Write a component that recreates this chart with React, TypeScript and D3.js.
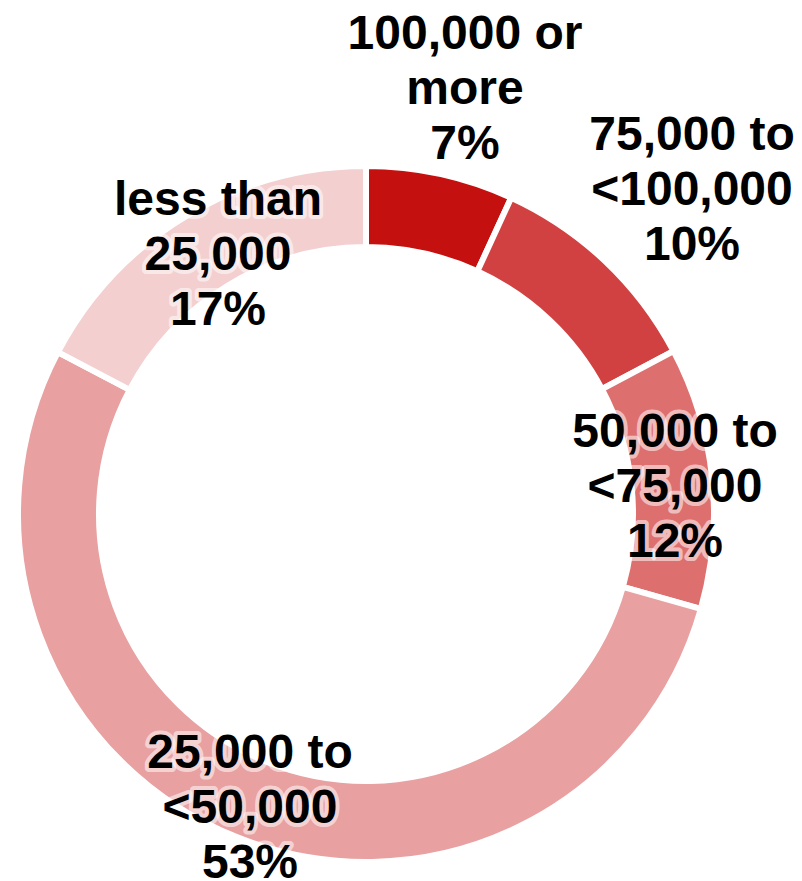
import React from "react";
import * as d3 from "d3";

const categories: string[][] = [
  ["100,000 or", "more"],
  ["75,000 to", "<100,000"],
  ["50,000 to", "<75,000"],
  ["25,000 to", "<50,000"],
  ["less than", "25,000"],
];
const values: number[] = [6.85, 10.4, 12.15, 53.3, 17.3];
const colors: string[] = ["#C51010", "#D24141", "#DE6F6F", "#E8A0A1", "#F3CFD0"];

// label layout (center x, first baseline y)
const labelPos: [number, number][] = [
  [465, 49],
  [692, 150],
  [675, 447],
  [250, 768],
  [218, 215],
];

const W = 802;
const H = 881;
const CX = 366;
const CY = 514;
const R_OUT = 348;
const R_IN = 267;
const FONT = 48;
const LINE = 55;

export default function App() {
  const pie = d3
    .pie<number>()
    .sort(null)
    .value((d) => d)(values);
  const arc = d3.arc<d3.PieArcDatum<number>>().innerRadius(R_IN).outerRadius(R_OUT);
  const total = d3.sum(values);

  return (
    <svg
      width={W}
      height={H}
      style={{ position: "absolute", left: 0, top: 0 }}
      xmlns="http://www.w3.org/2000/svg"
    >
      <rect width={W} height={H} fill="#fff" />
      <g transform={`translate(${CX},${CY})`}>
        {pie.map((p, i) => (
          <path
            key={i}
            d={arc(p) || ""}
            fill={colors[i]}
            stroke="#fff"
            strokeWidth={6}
            strokeLinejoin="miter"
          />
        ))}
      </g>
      <g
        fontFamily="'Liberation Sans', Arial, sans-serif"
        fontWeight="bold"
        fontSize={FONT}
        textAnchor="middle"
      >
        {categories.map((lines, i) => {
          const [x, y] = labelPos[i];
          const all = [...lines, `${Math.round((values[i] / total) * 100)}%`];
          return (
            <text key={i} x={x} y={y}>
              {all.map((ln, j) => (
                <tspan
                  key={j}
                  x={x}
                  y={y + j * LINE}
                  fill="#000"
                  stroke="rgba(255,255,255,0.55)"
                  strokeWidth={8}
                  strokeLinejoin="round"
                  style={{ paintOrder: "stroke" }}
                  xmlSpace="preserve"
                >
                  {ln}
                </tspan>
              ))}
            </text>
          );
        })}
      </g>
    </svg>
  );
}
